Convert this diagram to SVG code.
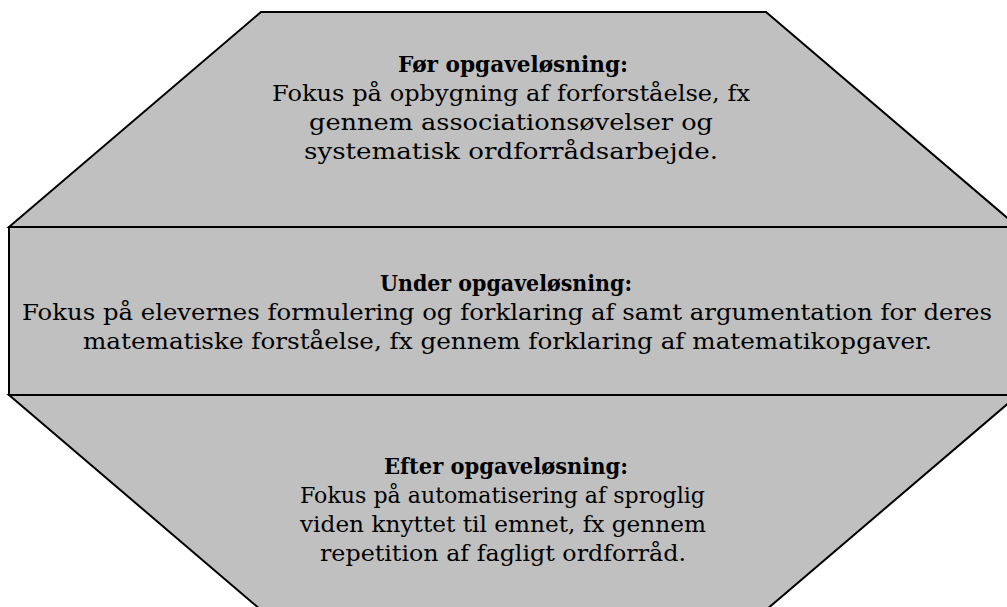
<svg xmlns="http://www.w3.org/2000/svg" width="1007" height="607" viewBox="0 0 1007 607">
<style>
.shape{fill:#c0c0c0;stroke:#000;stroke-width:2;stroke-linejoin:miter}
text{font-family:"DejaVu Serif","Liberation Serif",serif;font-size:23px;fill:#000;text-anchor:middle}
.b{font-weight:bold}
</style>
<rect width="1007" height="607" fill="#fff"/>
<g id="top">
<polygon class="shape" points="261,12 766,12 1018,227 9,227"/>
<text class="b" x="513" y="72" textLength="230" lengthAdjust="spacingAndGlyphs">Før opgaveløsning:</text>
<text x="511" y="101" textLength="478" lengthAdjust="spacingAndGlyphs">Fokus på opbygning af forforståelse, fx</text>
<text x="511" y="130" textLength="404" lengthAdjust="spacingAndGlyphs">gennem associationsøvelser og</text>
<text x="511" y="159" textLength="414" lengthAdjust="spacingAndGlyphs">systematisk ordforrådsarbejde.</text>
</g>
<g id="middle">
<rect class="shape" x="9" y="227" width="1009" height="168"/>
<text class="b" x="506" y="291" textLength="252" lengthAdjust="spacingAndGlyphs">Under opgaveløsning:</text>
<text x="507" y="320" textLength="970" lengthAdjust="spacingAndGlyphs">Fokus på elevernes formulering og forklaring af samt argumentation for deres</text>
<text x="507.5" y="349" textLength="849" lengthAdjust="spacingAndGlyphs">matematiske forståelse, fx gennem forklaring af matematikopgaver.</text>
</g>
<g id="bottom">
<polygon class="shape" points="9,395 1018,395 766,610 261,610"/>
<text class="b" x="506" y="474" textLength="244" lengthAdjust="spacingAndGlyphs">Efter opgaveløsning:</text>
<text x="502.5" y="503" textLength="405" lengthAdjust="spacingAndGlyphs">Fokus på automatisering af sproglig</text>
<text x="503" y="532" textLength="406" lengthAdjust="spacingAndGlyphs">viden knyttet til emnet, fx gennem</text>
<text x="503" y="561" textLength="366" lengthAdjust="spacingAndGlyphs">repetition af fagligt ordforråd.</text>
</g>
<g id="connectors"></g>
</svg>
